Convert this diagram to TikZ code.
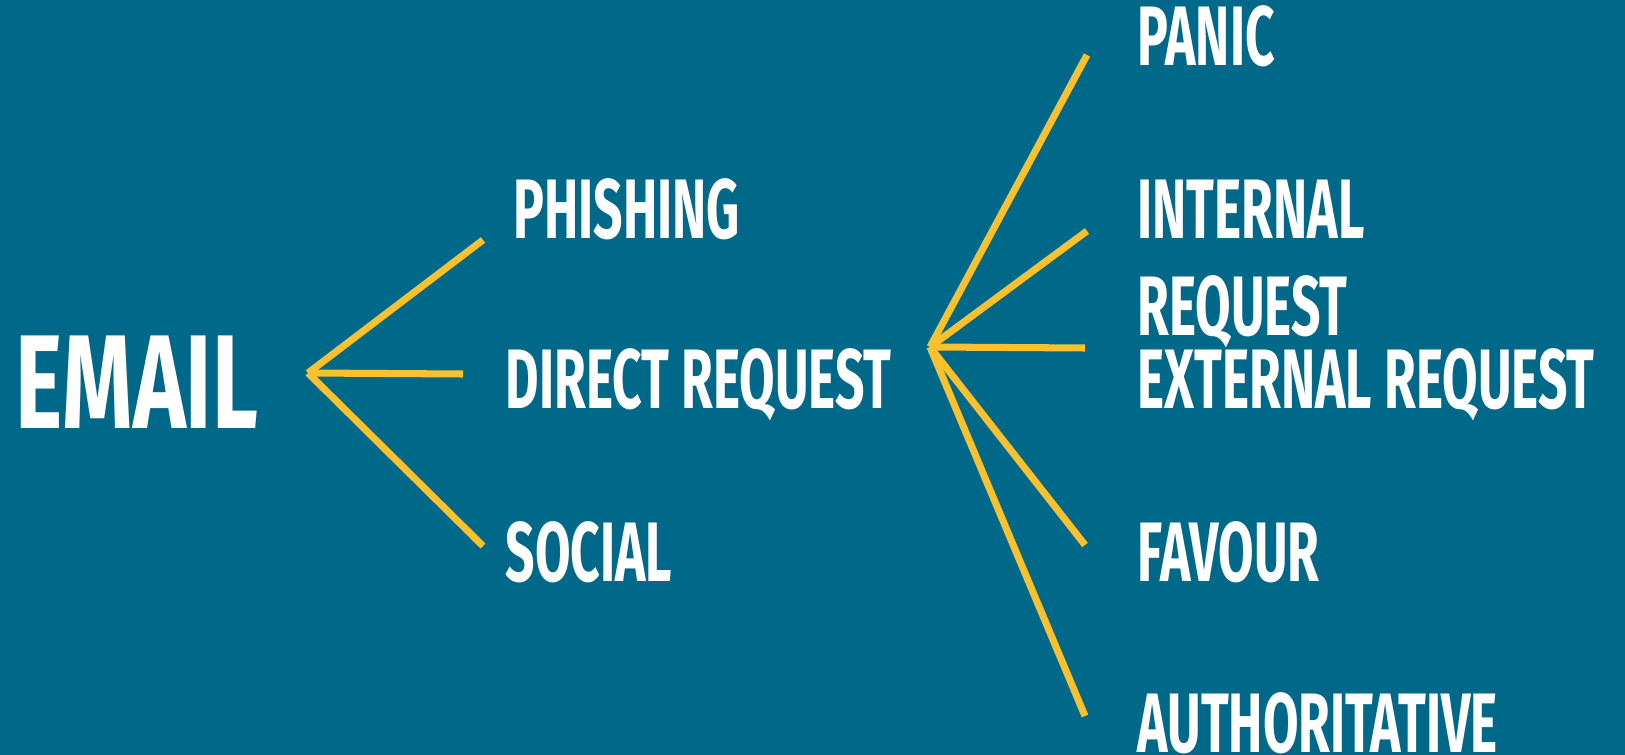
\documentclass[tikz,border=0pt]{standalone}
\usepackage{fontspec}
\setmainfont{Fira Sans}[FakeStretch=0.61]
\newfontfamily\headfont{Fira Sans}[FakeStretch=0.67]
\usepackage{tikz}

\definecolor{bgblue}{RGB}{0,105,137}
\definecolor{gold}{RGB}{251,192,45}

\begin{document}
\begin{tikzpicture}[x=0.01cm, y=-0.01cm]
        \fill[bgblue] (0,0) rectangle (1625,755);

        \begin{scope}[every node/.style={text=white, anchor=base west, inner sep=0, font=\bfseries\fontsize{24}{27.3}\selectfont}]
                \node [font=\headfont\bfseries\fontsize{38}{40}\selectfont] (Em) at (15,429) {EMAIL};
                \node (Ph) at (513,239) {PHISHING};
                \node (DR) at (505,408) {DIRECT REQUEST};
                \node (So) at (505,581) {SOCIAL};
                \node (Pa) at (1137,66) {PANIC};
                \node [align=left] (IR) at (1137,335) {INTERNAL\\REQUEST};
                \node (XR) at (1137,409) {EXTERNAL REQUEST};
                \node (Fa) at (1137,581) {FAVOUR};
                \node (Au) at (1137,752) {AUTHORITATIVE};
        \end{scope}

        \coordinate (EmV) at (308,373);
        \coordinate (PhE) at (483,240);
        \coordinate (DRE) at (463,374);
        \coordinate (SoE) at (483,546);
        \coordinate (DRV) at (930,347);
        \coordinate (PaE) at (1087,55);
        \coordinate (IRE) at (1087,231);
        \coordinate (XRE) at (1085,348);
        \coordinate (FaE) at (1085,545);
        \coordinate (AuE) at (1085,716);

        \begin{scope}[every path/.style={draw=gold, line width=2pt}]
                \path (EmV) edge (PhE);
                \path (EmV) edge (DRE);
                \path (EmV) edge (SoE);
                \path (DRV) edge (PaE);
                \path (DRV) edge (IRE);
                \path (DRV) edge (XRE);
                \path (DRV) edge (FaE);
                \path (DRV) edge (AuE);
        \end{scope}
\end{tikzpicture}
\end{document}
